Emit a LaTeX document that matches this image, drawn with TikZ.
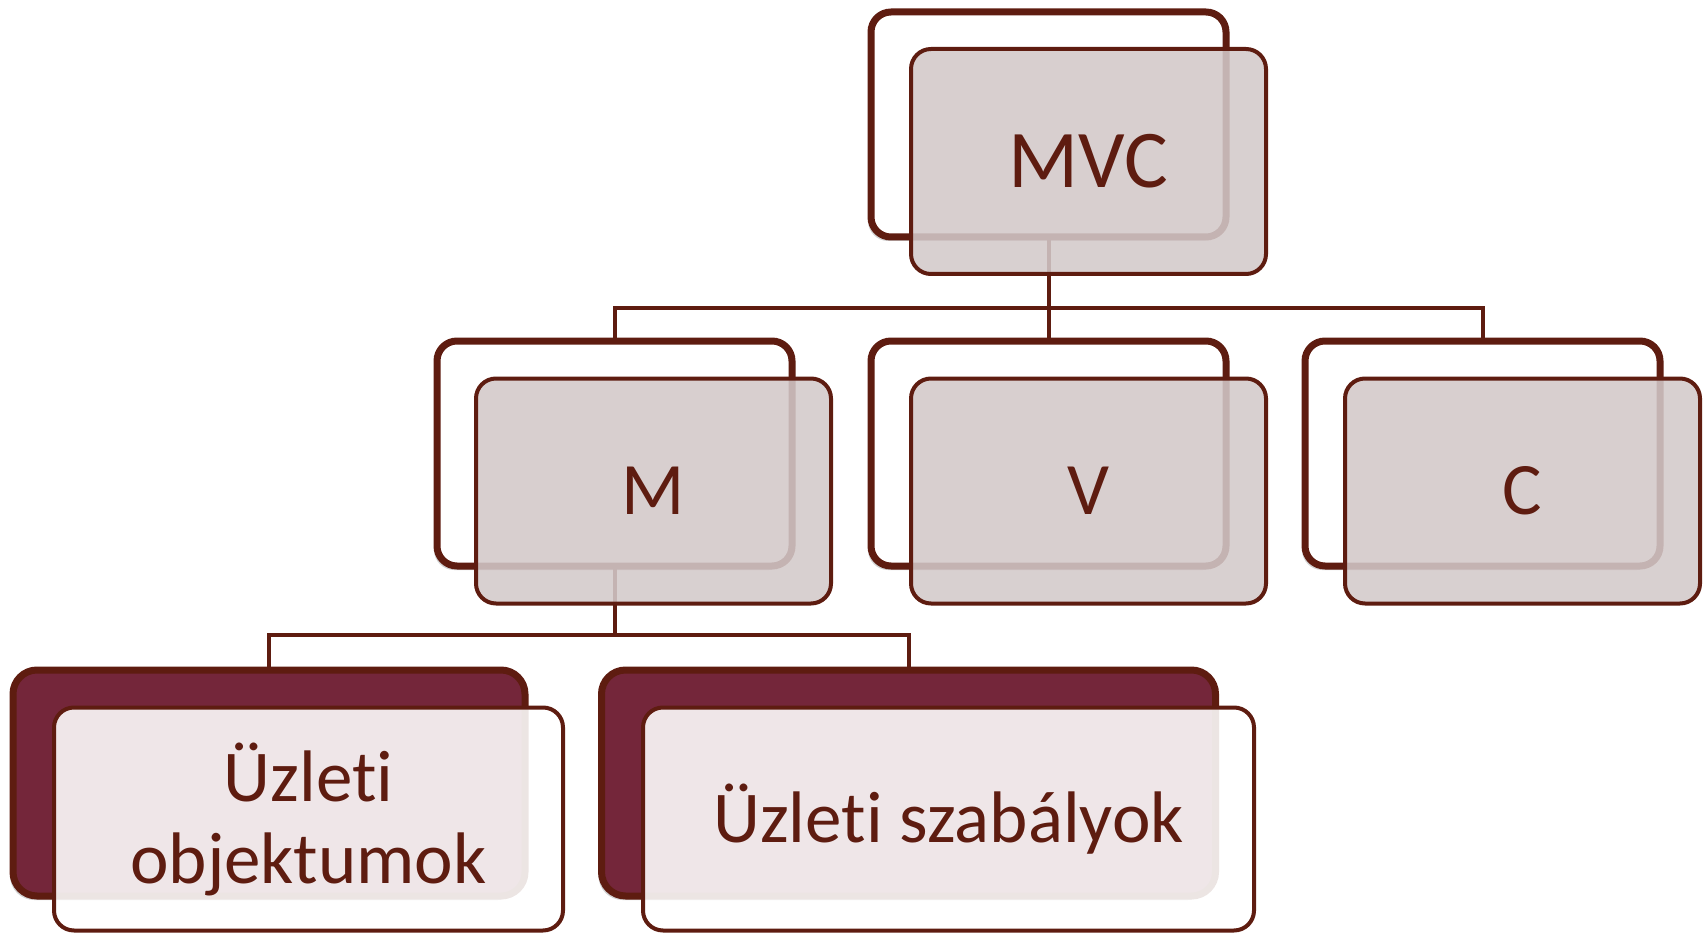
\documentclass[tikz,border=0pt]{standalone}
\usepackage{fontspec}
\setmainfont{Carlito}[Ligatures={NoCommon,NoContextual}]
\usetikzlibrary{shadows}
\definecolor{mvcdark}{RGB}{94,28,16}
\definecolor{mvcmaroon}{RGB}{116,38,58}
\definecolor{mvcgrey}{RGB}{211,201,201}
\tikzset{
  backbox/.style={draw=mvcdark, line width=7pt, fill=white, rounded corners=20pt,
    minimum width=355pt, minimum height=225pt, inner sep=0pt, outer sep=0pt,
    drop shadow={shadow xshift=-3pt, shadow yshift=-4pt, opacity=0.18, fill=black}},
  frontbox/.style={draw=mvcdark, line width=4pt, fill=mvcgrey, fill opacity=0.88,
    text opacity=1, text=mvcdark, rounded corners=20pt,
    minimum width=355pt, minimum height=225pt, inner sep=0pt, outer sep=0pt},
  lowback/.style={draw=mvcdark, line width=7pt, fill=mvcmaroon, rounded corners=24pt,
    minimum height=226pt, inner sep=0pt, outer sep=0pt,
    drop shadow={shadow xshift=-3pt, shadow yshift=-4pt, opacity=0.18, fill=black}},
  lowfront/.style={draw=mvcdark, line width=4pt, fill=white, fill opacity=0.885,
    text opacity=1, text=mvcdark, rounded corners=20pt,
    minimum height=223pt, inner sep=0pt, outer sep=0pt, align=center},
  conn/.style={draw=mvcdark, line width=4pt},
  bigtxt/.style={font=\fontsize{82}{98}\selectfont},
  midtxt/.style={font=\fontsize{74}{88}\selectfont},
  lowtxt/.style={font=\fontsize{73}{82}\selectfont},
}
\begin{document}
\begin{tikzpicture}[x=1pt,y=-1pt]
\useasboundingbox (0,0) rectangle (1705,933);
\coordinate (bus1) at (1048.5,308);
\coordinate (bus2) at (614.5,635);
% back boxes
\node[backbox] (mvcB) at (1048.5,124.5) {};
\node[backbox] (mB) at (614.5,453.5) {};
\node[backbox] (vB) at (1048.5,453.5) {};
\node[backbox] (cB) at (1482.5,453.5) {};
\node[lowback, minimum width=512pt] (uoB) at (269,783) {};
\node[lowback, minimum width=614pt] (usB) at (908.5,783) {};
% connectors
\draw[conn] (mvcB.south) -- (bus1);
\draw[conn] (mB.north) |- (bus1) -| (cB.north);
\draw[conn] (bus1) -- (vB.north);
\draw[conn] (mB.south) -- (bus2);
\draw[conn] (uoB.north) |- (bus2) -| (usB.north);
% front boxes
\node[frontbox, bigtxt] (mvcF) at (1088.5,161.5) {MVC};
\node[frontbox, midtxt] (mF) at (653.5,491) {M};
\node[frontbox, midtxt] (vF) at (1088.5,491) {V};
\node[frontbox, midtxt] (cF) at (1522.5,491) {C};
\node[lowfront, lowtxt, minimum width=509pt] (uoF) at (308.5,819) {Üzleti\\objektumok};
\node[lowfront, lowtxt, minimum width=611pt] (usF) at (948.5,819) {Üzleti szabályok};
\end{tikzpicture}
\end{document}
